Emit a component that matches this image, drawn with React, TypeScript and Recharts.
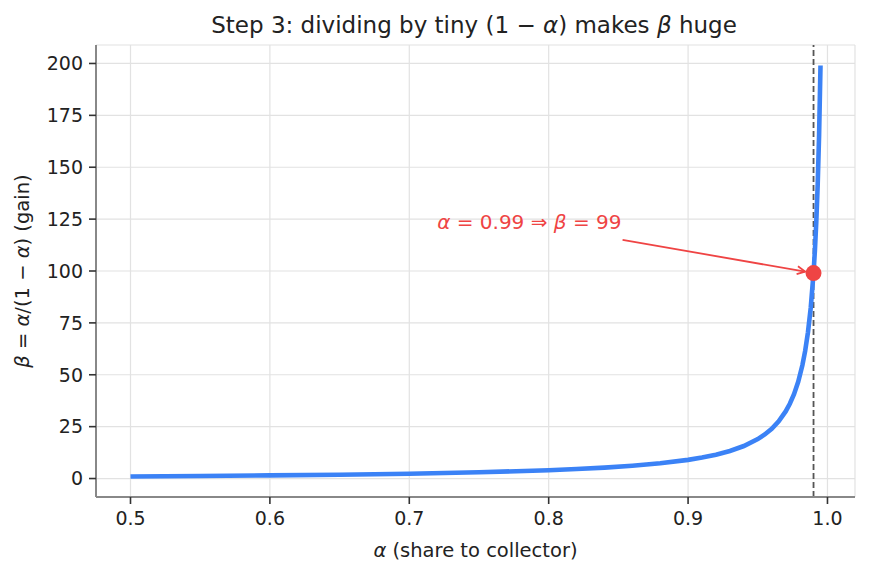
import React from 'react';
import { LineChart, Line, XAxis, YAxis, CartesianGrid, ReferenceLine, ReferenceDot } from 'recharts';

const alphaValues = [
  0.5, 0.55, 0.6, 0.65, 0.7, 0.75, 0.8, 0.82, 0.84, 0.86, 0.88, 0.9, 0.91, 0.92, 0.93, 0.94,
  0.95, 0.955, 0.96, 0.965, 0.97, 0.973, 0.976, 0.979, 0.982, 0.984, 0.986, 0.988, 0.99, 0.991,
  0.992, 0.993, 0.994, 0.995,
];
const betaValues = [
  1, 1.222, 1.5, 1.857, 2.333, 3, 4, 4.556, 5.25, 6.143, 7.333, 9, 10.11, 11.5, 13.29, 15.67,
  19, 21.22, 24, 27.57, 32.33, 36.04, 40.67, 46.62, 54.56, 61.5, 70.43, 82.33, 99, 110.1,
  124, 141.9, 165.7, 199,
];
const xTicks = [0.5, 0.6, 0.7, 0.8, 0.9, 1.0];
const yTicks = [0, 25, 50, 75, 100, 125, 150, 175, 200];
const xDomain = [0.47525, 1.01975];
const yDomain = [-8.9, 208.9];

const highlightAlpha = 0.99;
const highlightBeta = 99;
const noteAnchor = { alpha: 0.72, beta: 120 };
const arrowFrom = { alpha: 0.853, beta: 115 };
const arrowTo = { alpha: 0.984, beta: 99.7 };

const data = alphaValues.map((a, i) => ({ alpha: a, beta: betaValues[i] }));

const FONT = '"DejaVu Sans", sans-serif';
const RED = '#ef4444';
const BLUE = '#3b82f6';

const NoteText = (p: any) => (
  <text x={p.cx} y={p.cy} fill={RED} fontSize={20} fontFamily={FONT}>
    <tspan fontStyle="italic">α</tspan>
    <tspan> = 0.99 ⇒ </tspan>
    <tspan fontStyle="italic">β</tspan>
    <tspan> = 99</tspan>
  </text>
);

const Arrow = (p: any) => {
  const { x1, y1, x2, y2 } = p;
  const dx = x2 - x1;
  const dy = y2 - y1;
  const len = Math.sqrt(dx * dx + dy * dy) || 1;
  const ux = dx / len;
  const uy = dy / len;
  const hl = 8;
  const hw = 4;
  const bx = x2 - ux * hl;
  const by = y2 - uy * hl;
  const px = -uy * hw;
  const py = ux * hw;
  return (
    <g>
      <line x1={x1} y1={y1} x2={x2} y2={y2} stroke={RED} strokeWidth={1.8} />
      <path
        d={`M${bx + px},${by + py} L${x2},${y2} L${bx - px},${by - py}`}
        fill="none"
        stroke={RED}
        strokeWidth={1.8}
      />
    </g>
  );
};

const YLabel = (p: any) => {
  const vb = p.viewBox || { x: 0, y: 45, width: 96, height: 452 };
  const cx = vb.x + 29;
  const cy = vb.y + vb.height / 2;
  return (
    <text
      x={cx}
      y={cy}
      transform={`rotate(-90, ${cx}, ${cy})`}
      textAnchor="middle"
      fontSize={19.5}
      fontFamily={FONT}
      fill="#222"
    >
      <tspan fontStyle="italic">β</tspan>
      <tspan> = </tspan>
      <tspan fontStyle="italic">α</tspan>
      <tspan>/(1 − </tspan>
      <tspan fontStyle="italic">α</tspan>
      <tspan>) (gain)</tspan>
    </text>
  );
};

const XLabel = (p: any) => {
  const vb = p.viewBox || { x: 96, y: 497, width: 759, height: 76 };
  const cx = vb.x + vb.width / 2;
  const cy = vb.y + 60;
  return (
    <text x={cx} y={cy} textAnchor="middle" fontSize={19.5} fontFamily={FONT} fill="#222">
      <tspan fontStyle="italic">α</tspan>
      <tspan> (share to collector)</tspan>
    </text>
  );
};

export default function App() {
  return (
    <div style={{ position: 'absolute', left: 0, top: 0, width: 869, height: 573, background: '#fff' }}>
      <svg width={869} height={42} style={{ position: 'absolute', left: 0, top: 0 }}>
        <text x={474} y={33} textAnchor="middle" fontSize={23} fontFamily={FONT} fill="#222">
          <tspan>Step 3: dividing by tiny (1 − </tspan>
          <tspan fontStyle="italic">α</tspan>
          <tspan>) makes </tspan>
          <tspan fontStyle="italic">β</tspan>
          <tspan> huge</tspan>
        </text>
      </svg>
      <div style={{ position: 'absolute', left: 0, top: 0 }}>
        <LineChart width={869} height={573} data={data} margin={{ top: 45, right: 14, bottom: 0, left: 0 }}>
          <CartesianGrid stroke="#e2e2e2" strokeWidth={1.2} />
          <XAxis
            dataKey="alpha"
            type="number"
            domain={xDomain}
            ticks={xTicks}
            allowDataOverflow
            tickFormatter={(v: number) => v.toFixed(1)}
            height={76}
            tickSize={7}
            tickMargin={8}
            axisLine={{ stroke: '#888', strokeWidth: 2 }}
            tickLine={{ stroke: '#333', strokeWidth: 1.6 }}
            tick={{ fill: '#222', fontSize: 19, fontFamily: FONT }}
            label={{ content: (p: any) => <XLabel {...p} /> }}
          />
          <XAxis
            xAxisId="top"
            orientation="top"
            type="number"
            domain={xDomain}
            allowDataOverflow
            height={0}
            tick={false}
            tickLine={false}
            axisLine={{ stroke: '#888', strokeWidth: 2 }}
          />
          <YAxis
            type="number"
            domain={yDomain}
            ticks={yTicks}
            allowDataOverflow
            width={96}
            tickSize={7}
            tickMargin={6}
            axisLine={{ stroke: '#888', strokeWidth: 2 }}
            tickLine={{ stroke: '#333', strokeWidth: 1.6 }}
            tick={{ fill: '#222', fontSize: 19, fontFamily: FONT }}
            label={{ content: (p: any) => <YLabel {...p} /> }}
          />
          <YAxis
            yAxisId="right"
            orientation="right"
            type="number"
            domain={yDomain}
            allowDataOverflow
            width={0}
            tick={false}
            tickLine={false}
            axisLine={{ stroke: '#888', strokeWidth: 2 }}
          />
          <ReferenceLine x={highlightAlpha} stroke="#555" strokeWidth={1.8} strokeDasharray="6 3" />
          <Line
            dataKey="beta"
            type="linear"
            stroke={BLUE}
            strokeWidth={4.6}
            dot={false}
            isAnimationActive={false}
          />
          <ReferenceLine
            segment={[
              { x: arrowFrom.alpha, y: arrowFrom.beta },
              { x: arrowTo.alpha, y: arrowTo.beta },
            ]}
            stroke={RED}
            shape={(p: any) => <Arrow {...p} />}
          />
          <ReferenceDot x={highlightAlpha} y={highlightBeta} r={8} fill={RED} stroke={RED} strokeWidth={0} />
          <ReferenceDot
            x={noteAnchor.alpha}
            y={noteAnchor.beta}
            r={0}
            shape={(p: any) => <NoteText {...p} />}
          />
        </LineChart>
      </div>
    </div>
  );
}
